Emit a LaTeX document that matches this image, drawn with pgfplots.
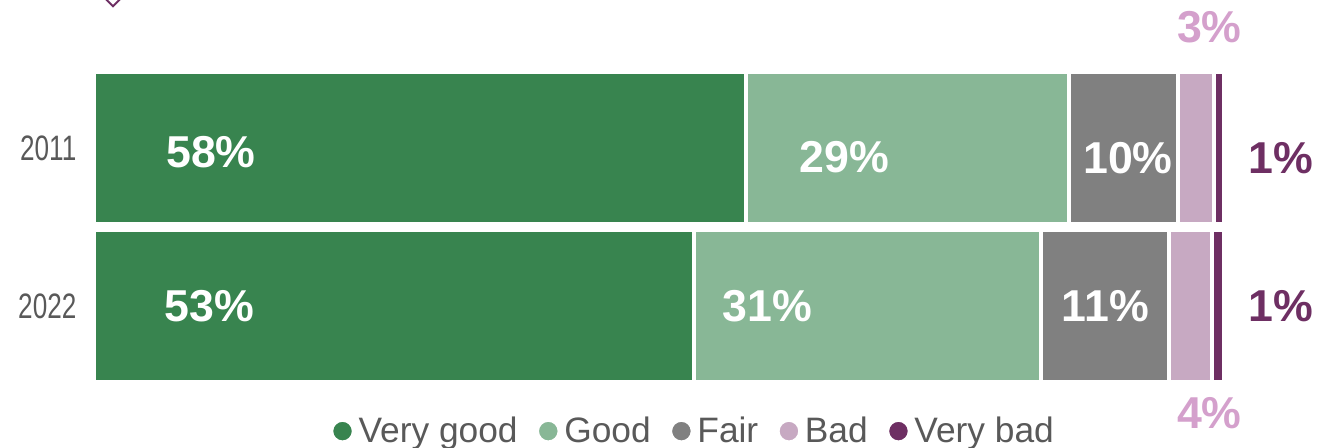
\documentclass[border=0pt]{standalone}
\usepackage{pgfplots}
\pgfplotsset{compat=1.18}
\usepackage{fontspec}
\setmainfont{Liberation Sans}
\newfontfamily\narrowfont[FakeStretch=0.74]{Liberation Sans}
\definecolor{vgood}{HTML}{38844F}
\definecolor{good}{HTML}{88B796}
\definecolor{fair}{HTML}{808080}
\definecolor{bad}{HTML}{C7A9C2}
\definecolor{vbad}{HTML}{6E2F63}
\definecolor{lbl}{HTML}{D4A0CC}
\definecolor{tickc}{HTML}{595959}
\tikzset{pct/.style={font=\bfseries\fontsize{33.5}{33.5}\selectfont}}
\begin{document}
\begin{tikzpicture}
\useasboundingbox (-70.5pt,-47.25pt) rectangle (918pt,288.75pt);
\draw[vbad, line width=1.5pt] (8.25pt,290pt) -- (14.25pt,284pt) -- (20.25pt,290pt);
\begin{axis}[
  at={(0pt,0pt)}, anchor=south west,
  scale only axis, width=847.5pt, height=237pt,
  xbar stacked, bar width=114pt,
  xmin=0, xmax=100, ymin=-0.5, ymax=1.5,
  hide x axis,
  axis y line*=left, y axis line style={draw=none},
  ytick={0,1}, yticklabels={2022,2011},
  major tick length=0pt,
  yticklabel style={font=\narrowfont\fontsize{26.5}{26.5}\selectfont, text=tickc, inner sep=0pt, xshift=-13pt},
  clip=false,
  legend columns=-1,
  legend style={at={(0.53,-0.146)}, anchor=center, draw=none, fill=none,
    font=\fontsize{26.5}{26.5}\selectfont, text=tickc,
    /tikz/every even column/.append style={column sep=11pt}},
  legend image code/.code={\fill[#1] (8.5pt,0pt) circle (8.5pt);},
]
\addplot[fill=vgood, draw=white, line width=3pt] coordinates {(57.7,1) (53.1,0)};
\addplot[fill=good, draw=white, line width=3pt] coordinates {(28.6,1) (30.7,0)};
\addplot[fill=fair, draw=white, line width=3pt] coordinates {(9.6,1) (11.3,0)};
\addplot[fill=bad, draw=white, line width=3pt] coordinates {(3.2,1) (3.8,0)};
\addplot[fill=vbad, draw=white, line width=3pt] coordinates {(0.9,1) (1.1,0)};
\legend{Very good, Good, Fair, Bad, Very bad}
\coordinate (a1) at (axis cs:10.35,0.975);
\coordinate (a2) at (axis cs:66.4,0.943);
\coordinate (a3) at (axis cs:91.5,0.937);
\coordinate (a4) at (axis cs:105.0,0.937);
\coordinate (a5) at (axis cs:98.7,1.766);
\coordinate (b1) at (axis cs:10.2,0.0);
\coordinate (b2) at (axis cs:59.6,0.0);
\coordinate (b3) at (axis cs:89.5,0.0);
\coordinate (b4) at (axis cs:105.0,0.0);
\coordinate (b5) at (axis cs:98.7,-0.677);
\end{axis}
\node[pct, text=white] at (a1) {58\%};
\node[pct, text=white] at (a2) {29\%};
\node[pct, text=white] at (a3) {10\%};
\node[pct, text=vbad] at (a4) {1\%};
\node[pct, text=lbl] at (a5) {3\%};
\node[pct, text=white] at (b1) {53\%};
\node[pct, text=white] at (b2) {31\%};
\node[pct, text=white] at (b3) {11\%};
\node[pct, text=vbad] at (b4) {1\%};
\node[pct, text=lbl] at (b5) {4\%};
\end{tikzpicture}
\end{document}
